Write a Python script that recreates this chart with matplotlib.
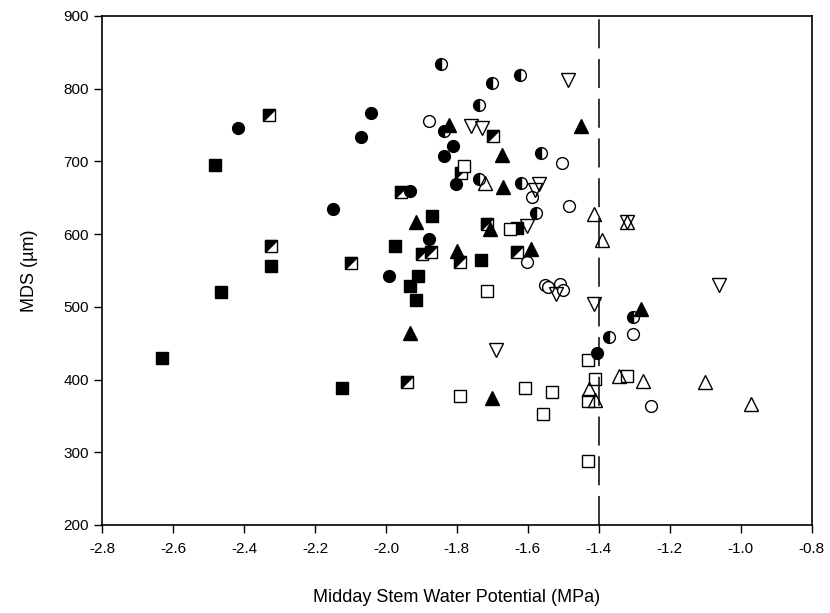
import numpy as np
import matplotlib
matplotlib.use('Agg')
import matplotlib.pyplot as plt

plt.rcParams['font.family'] = ['Liberation Sans', 'DejaVu Sans']

# filled squares
sq_f_x = [-2.632, -2.482, -2.465, -2.324, -2.123, -1.975, -1.932, -1.909, -1.915, -1.870, -1.733, -1.632]
sq_f_y = [430, 695, 520, 556, 389, 583, 529, 542, 510, 625, 564, 608]
# half filled squares
sq_h_x = [-2.331, -2.324, -2.099, -1.958, -1.942, -1.899, -1.873, -1.790, -1.789, -1.716, -1.698, -1.630]
sq_h_y = [764, 584, 560, 658, 396, 572, 575, 561, 684, 614, 735, 575]
# open squares
sq_o_x = [-1.779, -1.716, -1.790, -1.651, -1.608, -1.557, -1.533, -1.430, -1.411, -1.430, -1.320, -1.430]
sq_o_y = [694, 522, 378, 607, 388, 353, 383, 427, 401, 371, 405, 288]

# filled circles
ci_f_x = [-2.418, -2.150, -2.071, -2.042, -1.992, -1.932, -1.878, -1.836, -1.810, -1.803, -1.404]
ci_f_y = [746, 634, 734, 766, 542, 660, 593, 708, 721, 669, 436]
# half filled circles
ci_h_x = [-1.845, -1.836, -1.738, -1.702, -1.623, -1.737, -1.620, -1.563, -1.578, -1.371, -1.305]
ci_h_y = [834, 742, 778, 808, 819, 676, 671, 711, 629, 458, 486]
# open circles
ci_o_x = [-1.878, -1.588, -1.503, -1.485, -1.602, -1.552, -1.543, -1.510, -1.502, -1.303, -1.254]
ci_o_y = [756, 651, 698, 639, 561, 530, 527, 532, 523, 463, 363]

# filled triangles up
tu_f_x = [-1.822, -1.674, -1.670, -1.451, -1.915, -1.707, -1.801, -1.592, -1.932, -1.700, -1.280]
tu_f_y = [750, 709, 665, 749, 617, 607, 577, 579, 464, 375, 497]
# open triangles up
tu_o_x = [-1.721, -1.414, -1.392, -1.320, -1.344, -1.275, -1.101, -1.427, -1.411, -0.972]
tu_o_y = [670, 628, 592, 616, 405, 398, 397, 387, 372, 367]
# open triangles down
td_o_x = [-1.488, -1.759, -1.730, -1.568, -1.580, -1.602, -1.691, -1.521, -1.414, -1.320, -1.062]
td_o_y = [812, 749, 746, 669, 661, 611, 440, 518, 504, 616, 530]

threshold = -1.4

fig = plt.figure(figsize=(8.3, 6.13), dpi=100)
ax = fig.add_axes([0.123, 0.1436, 0.855, 0.8303])

ms = 8.5
ew = 1.0

# squares
ax.plot(sq_f_x, sq_f_y, 's', ms=ms, mfc='black', mec='black', mew=ew, ls='none')
ax.plot(sq_h_x, sq_h_y, 's', ms=ms, mfc='white', mec='black', mew=ew, ls='none')
half_tri = [(-1, -1), (-1, 1), (1, 1), (-1, -1)]
ax.plot(sq_h_x, sq_h_y, marker=half_tri, ms=ms, mfc='black', mec='black', mew=ew, ls='none')
ax.plot(sq_o_x, sq_o_y, 's', ms=ms, mfc='white', mec='black', mew=ew, ls='none')

# circles
ax.plot(ci_f_x, ci_f_y, 'o', ms=ms, mfc='black', mec='black', mew=ew, ls='none')
ax.plot(ci_h_x, ci_h_y, 'o', ms=ms, fillstyle='left', mfc='black', mfcalt='white',
        mec='black', mew=ew, ls='none')
ax.plot(ci_o_x, ci_o_y, 'o', ms=ms, mfc='white', mec='black', mew=ew, ls='none')

# triangles
ax.plot(tu_f_x, tu_f_y, '^', ms=ms + 1, mfc='black', mec='black', mew=ew, ls='none')
ax.plot(tu_o_x, tu_o_y, '^', ms=ms + 1, mfc='none', mec='black', mew=ew, ls='none')
ax.plot(td_o_x, td_o_y, 'v', ms=ms + 1, mfc='none', mec='black', mew=ew, ls='none')

ax.axvline(threshold, color='black', lw=1.1, dashes=(19, 7))

ax.set_xlim(-2.8, -0.8)
ax.set_ylim(200, 900)
ax.set_xticks(np.arange(-2.8, -0.79, 0.2))
ax.set_xticklabels([f'{v:.1f}' for v in np.arange(-2.8, -0.79, 0.2)])
ax.set_yticks(np.arange(200, 901, 100))
ax.tick_params(direction='out', length=6, width=1, labelsize=11, top=False, right=False)
ax.tick_params(axis='x', pad=6)
for s in ax.spines.values():
    s.set_linewidth(1.2)

ax.set_xlabel('Midday Stem Water Potential (MPa)', fontsize=13, labelpad=24)
ax.set_ylabel('MDS (\u00b5m)', fontsize=13, labelpad=18)

fig.savefig('out.png', dpi=100)
